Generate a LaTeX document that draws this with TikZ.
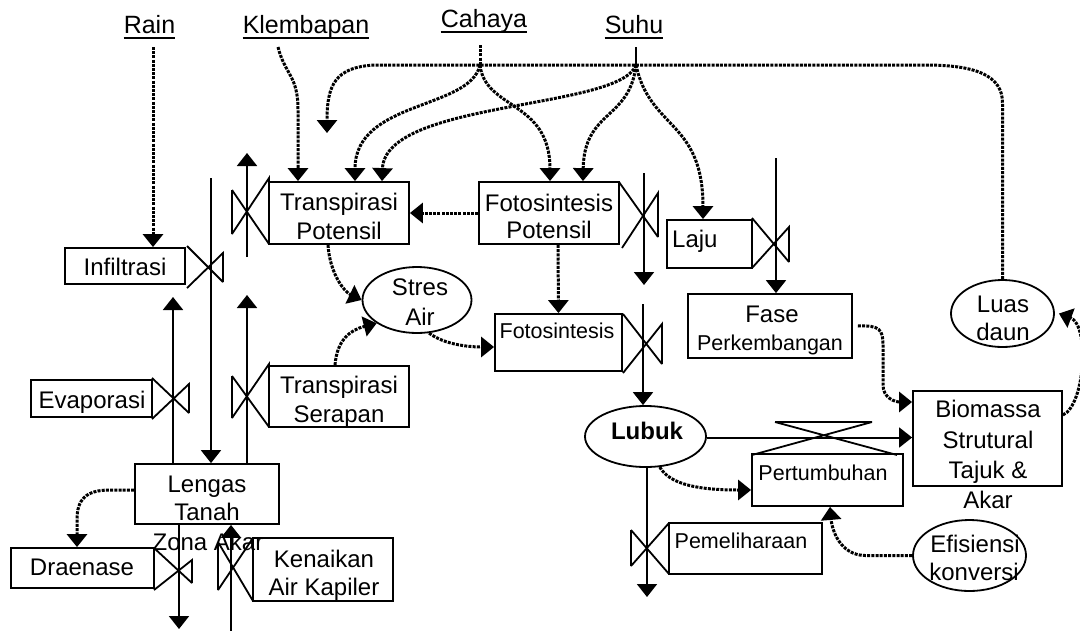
\documentclass[tikz,border=0pt]{standalone}
\usepackage{fontspec}
\setmainfont{Liberation Sans}
\usetikzlibrary{arrows.meta,shapes.geometric,calc}
\begin{document}
\begin{tikzpicture}[x=1pt,y=-1pt,
  box/.style={draw,line width=1.8pt,rectangle,inner sep=0pt},
  oval/.style={draw,line width=1.8pt,ellipse,inner sep=0pt},
  txt/.style={anchor=base,inner sep=0pt,font=\fontsize{24}{28}\selectfont},
  stxt/.style={anchor=base,inner sep=0pt,font=\fontsize{21.5}{26}\selectfont},
  toptxt/.style={anchor=base,inner sep=0pt,font=\fontsize{25}{28}\selectfont},
  flow/.style={line width=2pt,-{Triangle[width=20pt,length=13pt]}},
  link/.style={line width=3pt,dash pattern=on 3pt off 1.2pt,-{Triangle[width=20pt,length=13pt]}},
  linkplain/.style={line width=3pt,dash pattern=on 3pt off 1.2pt},
  valve/.style={line width=1.8pt},
  uline/.style={line width=2pt}]
\fill[white] (0,0) rectangle (1080,630);
\useasboundingbox (0,0) rectangle (1080,630);

% ---------- top labels ----------
\node[toptxt] (rain) at (149.5,33) {Rain};
\node[toptxt] (klem) at (306,33) {Klembapan};
\node[toptxt] (cahaya) at (484,27) {Cahaya};
\node[toptxt] (suhu) at (634,33) {Suhu};
\draw[uline] ([yshift=-4.5pt]rain.base west) -- ([yshift=-4.5pt]rain.base east);
\draw[uline] ([yshift=-4.5pt]klem.base west) -- ([yshift=-4.5pt]klem.base east);
\draw[uline] ([yshift=-4.5pt]cahaya.base west) -- ([yshift=-4.5pt]cahaya.base east);
\draw[uline] ([yshift=-4.5pt]suhu.base west) -- ([yshift=-4.5pt]suhu.base east);

% ---------- boxes ----------
\node[box,minimum width=140pt,minimum height=62pt] (tp) at (339,213) {};
\node[txt] (tp1) at (339,210) {Transpirasi};
\node[txt] (tp2) at (339,239) {Potensil};

\node[box,minimum width=140pt,minimum height=62pt] (fp) at (549,213) {};
\node[txt] (fp1) at (549,211) {Fotosintesis};
\node[txt] (fp2) at (549,238) {Potensil};

\node[box,minimum width=85pt,minimum height=48pt] (laju) at (709.5,244) {};
\node[txt,anchor=base west] (laju1) at (672,247) {Laju};

\node[box,minimum width=120pt,minimum height=36pt] (inf) at (125,266) {};
\node[txt] (inf1) at (125,275) {Infiltrasi};

\node[box,minimum width=121pt,minimum height=37pt] (evap) at (91.5,398.5) {};
\node[txt] (evap1) at (92,408) {Evaporasi};

\node[box,minimum width=140pt,minimum height=61pt] (ts) at (339,396.5) {};
\node[txt] (ts1) at (339,393) {Transpirasi};
\node[txt] (ts2) at (339,422) {Serapan};

\node[box,minimum width=144pt,minimum height=60pt] (lengas) at (207,494) {};

\node[box,minimum width=143pt,minimum height=40pt] (drain) at (82.5,568) {};
\node[txt] (drain1) at (82,575) {Draenase};

\node[box,minimum width=140pt,minimum height=63pt] (kap) at (323,569.5) {};
\node[txt] (kap1) at (324,567) {Kenaikan};
\node[txt] (kap2) at (324,595) {Air Kapiler};

\node[box,minimum width=127pt,minimum height=57pt] (foto) at (558.5,342.5) {};
\node[stxt] (foto1) at (557,338) {Fotosintesis};

\node[box,minimum width=164pt,minimum height=64pt] (fase) at (770,326) {};
\node[txt] (fase1) at (772,322) {Fase};
\node[stxt] (fase2) at (770,350) {Perkembangan};

\node[box,minimum width=149pt,minimum height=95pt] (bio) at (987.5,438.5) {};
\node[txt] (bio1) at (988,417) {Biomassa};
\node[txt] (bio2) at (988,448) {Strutural};
\node[txt] (bio3) at (988,478) {Tajuk \&};
\node[txt] (bio4) at (988,508) {Akar};

\node[box,minimum width=151pt,minimum height=52pt] (pert) at (827.5,480) {};
\node[stxt] (pert1) at (823,480) {Pertumbuhan};

\node[box,minimum width=153pt,minimum height=51pt] (pem) at (745.5,548.5) {};
\node[stxt] (pem1) at (741,548) {Pemeliharaan};

% ---------- ellipses ----------
\node[oval,minimum width=109pt,minimum height=66pt] (stres) at (417,300) {};
\node[txt] (stres1) at (420,295) {Stres};
\node[txt] (stres2) at (420,325) {Air};

\node[oval,minimum width=121pt,minimum height=61pt] (lubuk) at (645.5,436.5) {};
\node[txt,font=\fontsize{24}{28}\selectfont\bfseries] (lubuk1) at (647,439) {Lubuk};

\node[oval,minimum width=103pt,minimum height=67pt] (luas) at (1002.5,313.5) {};
\node[txt] (luas1) at (1003,312) {Luas};
\node[txt] (luas2) at (1003,340) {daun};

\node[oval,minimum width=113pt,minimum height=71pt] (efi) at (969.5,555.5) {};
\node[txt] (efi1) at (975,552) {Efisiensi};
\node[txt] (efi2) at (974,580) {konversi};

% ---------- valves ----------
\draw[valve] (232,190) -- (232,234) (232,190) -- (269,244) (232,234) -- (269,178) -- (269,182);
\draw[valve] (187,246) -- (223,282) (187,288) -- (223,253) -- (223,282);
\draw[valve] (152,378) -- (189,413) (152,419) -- (189,384) -- (189,413);
\draw[valve] (232,376) -- (232,418) (232,376) -- (269,427) (232,418) -- (269,364) -- (269,366);
\draw[valve] (154,548) -- (192,583) (154,590) -- (192,560) -- (192,583);
\draw[valve] (218,542) -- (218,590) (218,542) -- (253,601) (218,590) -- (253,538);
\draw[valve] (619,182) -- (658,237) (622,248) -- (658,193) -- (658,237);
\draw[valve] (623,314) -- (662,364) (623,373) -- (662,324) -- (662,364);
\draw[valve] (752,218) -- (789,262) (752,268) -- (789,227) -- (789,262);
\draw[valve] (631,530) -- (631,566) (631,530) -- (669,574) (631,566) -- (669,523);
\draw[valve] (775,422) -- (872,422) (775,422) -- (897,455) (752,455) -- (872,422);

% ---------- solid flows ----------
\coordinate (inftop) at (211,178);
\draw[flow] (inftop) -- ([xshift=4pt]lengas.north);
\coordinate (tpbot) at (247,257);
\coordinate (tptop) at (247,153);
\draw[flow] (tpbot) -- (tptop);
\coordinate (evtop) at (173,297);
\draw[flow] ([xshift=-34pt]lengas.north) -- (evtop);
\coordinate (tstop) at (247,295);
\draw[flow] ([xshift=40pt]lengas.north) -- (tstop);
\coordinate (drbot) at (179,629);
\draw[flow] ([xshift=-28pt]lengas.south) -- (drbot);
\coordinate (kabot) at (231,632);
\draw[flow] (kabot) -- ([xshift=24pt]lengas.south);
\coordinate (fptop) at (644,173);
\coordinate (fpbot) at (644,285);
\draw[flow] (fptop) -- (fpbot);
\coordinate (fotop) at (643,304);
\draw[flow] (fotop) -- ([xshift=-2.5pt]lubuk.north);
\coordinate (latop) at (776,158);
\draw[flow] (latop) -- ([xshift=6pt]fase.north);
\coordinate (pmbot) at (647,597);
\draw[flow] ([xshift=1.5pt]lubuk.south) -- (pmbot);
\draw[flow] ([yshift=-1pt]lubuk.east) -- ([yshift=-1pt]lubuk.east -| bio.west);

% ---------- information links ----------
\coordinate (rainS) at (153,47);
\draw[link] (rainS) -- ([xshift=28pt]inf.north);
\coordinate (klemS) at (278,47);
\draw[link] (klemS) .. controls (285,75) and (298,75) .. (298,110) -- ([xshift=-41pt]tp.north);
\coordinate (cahS) at (480,45);
\coordinate (cahJ) at (480,65);
\draw[linkplain] (cahS) -- (cahJ);
\draw[link] (cahJ) .. controls (470,110) and (355,100) .. ([xshift=16pt]tp.north);
\draw[link] (cahJ) .. controls (485,110) and (550,100) .. ([xshift=1pt]fp.north);
\coordinate (suhuS) at (636,47);
\coordinate (suhuJ) at (636,65);
\draw[line width=2.5pt] (suhuS) -- (suhuJ);
\draw[link] (suhuJ) .. controls (620,110) and (385,100) .. ([xshift=43pt]tp.north);
\draw[link] (suhuJ) .. controls (630,120) and (584,110) .. ([xshift=34pt]fp.north);
\draw[link] (suhuJ) .. controls (650,130) and (703,120) .. ([xshift=-6.5pt]laju.north);
\coordinate (luasEnd) at (327,133);
\draw[link] (luas.north) -- (1002.5,103) .. controls (1002.5,75) and (975,65) .. (925,65) -- (375,65) .. controls (335,67) and (327,85) .. (luasEnd);
\draw[link] (fp.west) -- (tp.east);
\draw[link] ([xshift=9pt]fp.south) -- (foto.north);
\draw[link] ([xshift=-11pt]tp.south) .. controls (330,275) and (345,292) .. (stres.west);
\draw[link] ([xshift=-4pt]ts.north) .. controls (337,340) and (350,330) .. (stres.-150);
\draw[link] (stres.-70) .. controls (445,345) and (470,347) .. ([yshift=-4.5pt]foto.west);
\draw[link] ([xshift=5pt]fase.east) .. controls (880,325) and (883,330) .. (883,345) -- (883,385) .. controls (883,398) and (895,402) .. ([yshift=36.5pt]bio.west);
\draw[link] (lubuk.-65) .. controls (670,485) and (700,490) .. ([yshift=-10pt]pert.west);
\draw[link] (efi.west) -- (865,555.5) .. controls (840,555) and (832,530) .. ([xshift=2.5pt]pert.south);
\draw[link] ([yshift=23.5pt]bio.east) .. controls (1085,405) and (1090,325) .. ([xshift=4pt]luas.east);
\draw[link] ([yshift=4pt]lengas.west) -- (110,490) .. controls (85,490) and (77,500) .. (77,520) -- ([xshift=-5.5pt]drain.north);

% ---------- Lengas text (drawn last, overlapping) ----------
\node[txt] (len1) at (207,492) {Lengas};
\node[txt] (len2) at (207,520) {Tanah};
\node[txt] (len3) at (208,550) {Zona Akar};
\end{tikzpicture}
\end{document}
